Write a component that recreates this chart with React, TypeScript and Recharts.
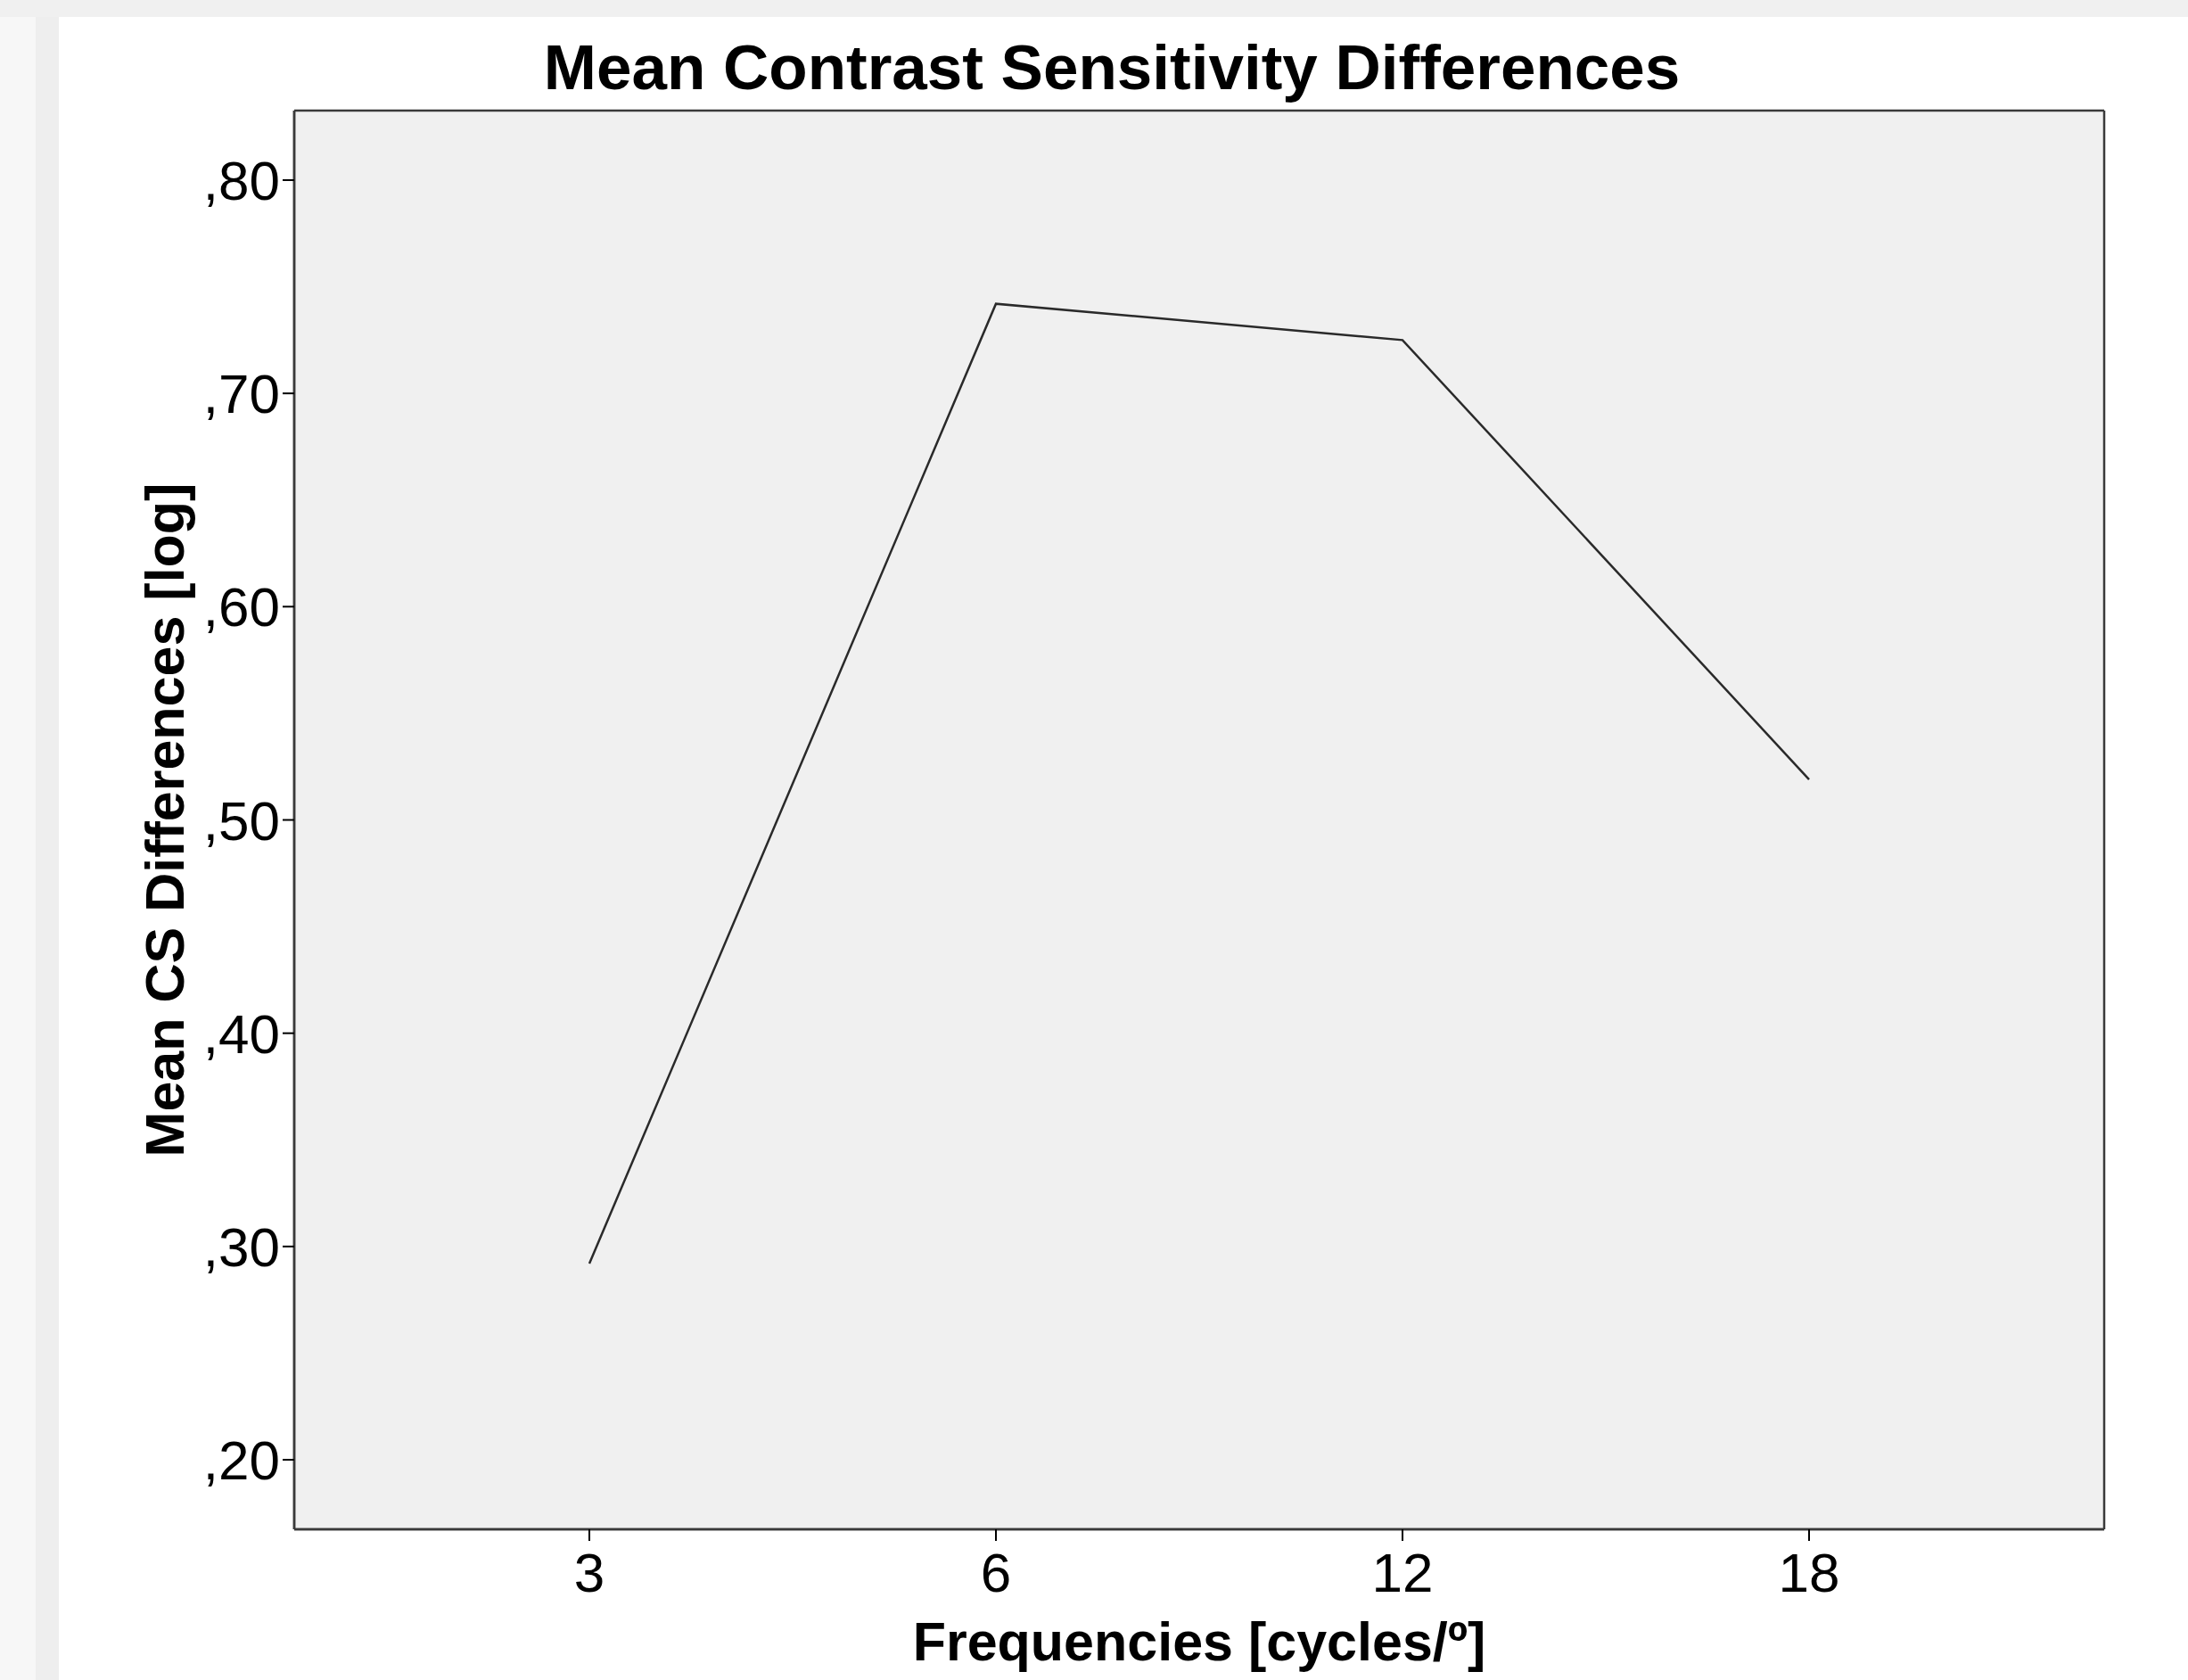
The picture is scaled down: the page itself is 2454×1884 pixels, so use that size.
import { LineChart, Line, XAxis, YAxis, CartesianGrid, Label } from 'recharts';

const FREQUENCIES = ['3', '6', '12', '18'];
const MEAN_CS_DIFF = [0.292, 0.742, 0.725, 0.519];
const Y_TICKS = [0.2, 0.3, 0.4, 0.5, 0.6, 0.7, 0.8];
const Y_DOMAIN = [0.1674, 0.8326];

const FONT = '"Liberation Sans", Arial, sans-serif';
const INK = '#000000';
const FRAME = '#3a3a3a';

const data = FREQUENCIES.map((freq, i) => ({ freq, value: MEAN_CS_DIFF[i] }));

// SPSS style ",80"
const commaFormat = (v: number) => v.toFixed(2).replace(/^0\./, ',');

// frame lines on the plot edges, taken from the chart's own offset
const frameRows = ({ offset }: any) => [offset.top, offset.top + offset.height];
const frameCols = ({ offset }: any) => [offset.left, offset.left + offset.width];

function YTitle(props: any) {
  const { viewBox } = props;
  const x = viewBox.x + 185;
  const y = viewBox.y + viewBox.height / 2;
  return (
    <text
      x={x}
      y={y}
      transform={`rotate(-90, ${x}, ${y})`}
      textAnchor="middle"
      dominantBaseline="central"
      fontFamily={FONT}
      fontWeight="bold"
      fontSize={61}
      fill={INK}
    >
      Mean CS Differences [log]
    </text>
  );
}

export default function App() {
  return (
    <div
      style={{
        position: 'absolute',
        left: 0,
        top: 0,
        width: 2454,
        height: 1884,
        background: '#ffffff',
        overflow: 'hidden',
      }}
    >
      <div style={{ position: 'absolute', left: 0, top: 0, width: 2454, height: 19, background: '#f0f0f0' }} />
      <div style={{ position: 'absolute', left: 0, top: 19, width: 40, height: 1865, background: '#f7f7f7' }} />
      <div style={{ position: 'absolute', left: 40, top: 19, width: 26, height: 1865, background: '#eeeeee' }} />
      <div
        style={{
          position: 'absolute',
          left: 66,
          top: 40,
          width: 2362,
          textAlign: 'center',
          fontFamily: FONT,
          fontWeight: 'bold',
          fontSize: 71,
          lineHeight: '71px',
          color: INK,
        }}
      >
        Mean Contrast Sensitivity Differences
      </div>
      <LineChart
        width={2454}
        height={1884}
        data={data}
        margin={{ top: 124, right: 94, left: 0, bottom: 0 }}
        style={{ position: 'absolute', left: 0, top: 0 }}
      >
        <CartesianGrid
          fill="#f0f0f0"
          stroke={FRAME}
          strokeWidth={2.5}
          horizontalCoordinatesGenerator={frameRows}
          verticalCoordinatesGenerator={frameCols}
        />
        <XAxis
          dataKey="freq"
          type="category"
          height={169}
          padding={{ left: 331, right: 331 }}
          axisLine={{ stroke: FRAME, strokeWidth: 2.5 }}
          tickLine={{ stroke: INK, strokeWidth: 2 }}
          tickSize={13}
          tickMargin={13}
          tick={{ fill: INK, fontSize: 62, fontFamily: FONT }}
        >
          <Label
            value="Frequencies [cycles/º]"
            position="insideBottom"
            offset={22}
            style={{ fontFamily: FONT, fontWeight: 'bold', fontSize: 61, fill: INK }}
          />
        </XAxis>
        <YAxis
          type="number"
          domain={Y_DOMAIN}
          ticks={Y_TICKS}
          width={330}
          allowDataOverflow
          tickFormatter={commaFormat}
          axisLine={{ stroke: FRAME, strokeWidth: 2.5 }}
          tickLine={{ stroke: INK, strokeWidth: 2 }}
          tickSize={13}
          tickMargin={3}
          tick={{ fill: INK, fontSize: 62, fontFamily: FONT }}
        >
          <Label content={YTitle} position="center" />
        </YAxis>
        <Line
          type="linear"
          dataKey="value"
          stroke="#2a2a2a"
          strokeWidth={2.5}
          dot={false}
          activeDot={false}
          isAnimationActive={false}
        />
      </LineChart>
    </div>
  );
}
